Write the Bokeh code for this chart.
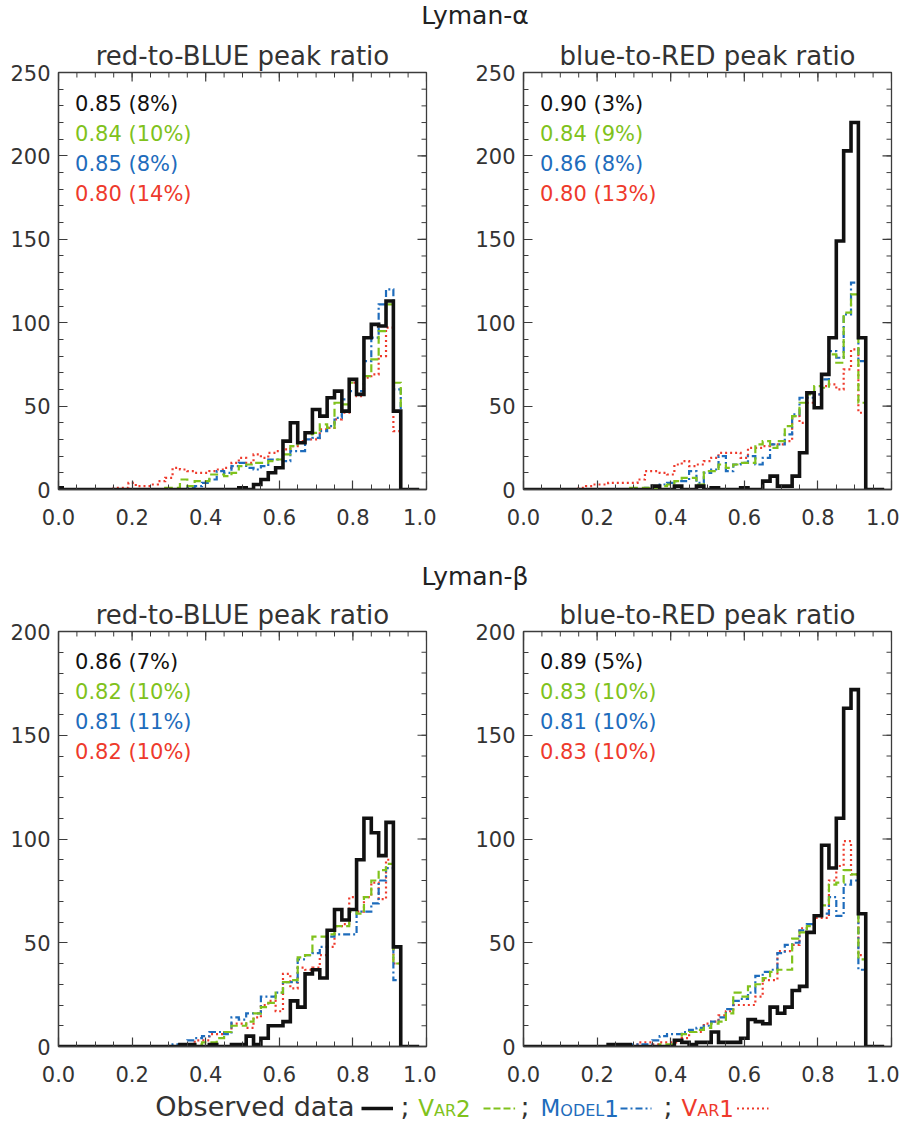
from bokeh.plotting import figure
from bokeh.models import Range1d, FixedTicker, PrintfTickFormatter, Label
from bokeh.layouts import column, row
from bokeh.core.properties import value
from bokeh.embed import file_html
from bokeh.resources import INLINE

# ---------------- data ----------------
bin_centers = [0.00, 0.02, 0.04, 0.06, 0.08, 0.10, 0.12, 0.14, 0.16, 0.18,
               0.20, 0.22, 0.24, 0.26, 0.28, 0.30, 0.32, 0.34, 0.36, 0.38,
               0.40, 0.42, 0.44, 0.46, 0.48, 0.50, 0.52, 0.54, 0.56, 0.58,
               0.60, 0.62, 0.64, 0.66, 0.68, 0.70, 0.72, 0.74, 0.76, 0.78,
               0.80, 0.82, 0.84, 0.86, 0.88, 0.90, 0.92, 0.94, 0.96, 0.98]

# Lyman-alpha, red-to-BLUE
lya_rb_obs = [1, 0, 0, 0, 0, 0, 0, 0, 0, 0, 0, 0, 0, 0, 0, 0, 0, 0, 0, 0, 0, 0, 0, 0, 0,
              1, 0, 3, 6, 10, 13, 29, 40, 28, 34, 48, 44, 55, 59, 47, 66, 57, 91, 99, 98, 113, 47, 0, 0, 0]
lya_rb_var2 = [0, 0, 0, 0, 0, 0, 0, 0, 0, 0, 0, 0, 0, 0, 0, 1, 1, 6, 2, 5, 5, 9, 9, 8, 10,
               14, 15, 16, 16, 17, 18, 21, 26, 28, 33, 34, 39, 37, 52, 51, 64, 57, 68, 78, 95, 111, 64, 0, 0, 0]
lya_rb_model1 = [0, 0, 0, 0, 0, 0, 0, 0, 0, 0, 0, 0, 0, 0, 0, 0, 0, 0, 1, 2, 4, 6, 11, 10, 14,
                 16, 13, 12, 14, 18, 18, 17, 23, 23, 30, 31, 35, 38, 43, 54, 59, 59, 77, 91, 111, 120, 60, 0, 0, 0]
lya_rb_var1 = [0, 0, 0, 0, 0, 0, 0, 0, 1, 1, 4, 2, 2, 3, 5, 7, 13, 12, 11, 10, 10, 11, 12, 13, 16,
               19, 16, 21, 19, 22, 23, 24, 26, 29, 30, 30, 36, 37, 42, 46, 64, 56, 67, 69, 80, 97, 35, 0, 0, 0]

# Lyman-alpha, blue-to-RED
lya_br_obs = [0, 0, 0, 0, 0, 0, 0, 0, 0, 0, 0, 0, 0, 0, 0, 0, 0, 0, 2, 0, 0, 2, 0, 0, 2,
              0, 1, 0, 0, 0, 1, 0, 0, 5, 8, 2, 2, 8, 22, 58, 49, 69, 91, 149, 203, 220, 91, 0, 0, 0]
lya_br_var2 = [0, 0, 0, 0, 0, 0, 0, 0, 0, 0, 0, 0, 0, 0, 0, 1, 1, 1, 1, 2, 3, 5, 7, 7, 3,
               11, 11, 15, 13, 15, 16, 16, 27, 29, 25, 29, 38, 44, 52, 57, 62, 61, 81, 76, 106, 117, 52, 0, 0, 0]
lya_br_model1 = [0, 0, 0, 0, 0, 0, 0, 0, 0, 0, 0, 0, 0, 0, 0, 0, 0, 1, 2, 3, 4, 5, 5, 11, 4,
                 10, 12, 20, 11, 15, 16, 20, 15, 19, 27, 27, 33, 45, 55, 55, 57, 66, 83, 79, 105, 124, 77, 0, 0, 0]
lya_br_var1 = [0, 0, 0, 0, 0, 0, 0, 0, 1, 2, 3, 3, 4, 4, 4, 4, 6, 11, 11, 10, 9, 15, 17, 14, 15,
               17, 19, 22, 22, 22, 19, 25, 25, 26, 27, 27, 29, 44, 40, 52, 57, 62, 63, 60, 72, 84, 46, 0, 0, 0]

# Lyman-beta, red-to-BLUE
lyb_rb_obs = [0, 0, 0, 0, 0, 0, 0, 0, 0, 0, 0, 0, 0, 0, 0, 0, 0, 1, 1, 0, 0, 1, 0, 0, 1,
              1, 5, 1, 4, 10, 10, 12, 22, 19, 35, 37, 33, 56, 66, 61, 66, 90, 110, 103, 92, 108, 48, 0, 0, 0]
lyb_rb_var2 = [0, 0, 0, 0, 0, 0, 0, 0, 0, 0, 0, 0, 0, 0, 0, 0, 0, 0, 1, 1, 2, 2, 4, 7, 10,
               10, 12, 16, 19, 21, 26, 31, 32, 43, 44, 53, 53, 54, 58, 58, 65, 64, 72, 80, 85, 88, 40, 0, 0, 0]
lyb_rb_model1 = [0, 0, 0, 0, 0, 0, 0, 0, 0, 0, 0, 0, 0, 0, 0, 0, 1, 1, 3, 4, 5, 7, 7, 6, 14,
                 13, 16, 16, 24, 24, 26, 31, 31, 42, 44, 45, 48, 53, 54, 54, 54, 65, 65, 69, 80, 86, 32, 0, 0, 0]
lyb_rb_var1 = [0, 0, 0, 0, 0, 0, 0, 0, 0, 0, 0, 0, 0, 0, 0, 0, 0, 0, 1, 3, 3, 6, 6, 7, 11,
               11, 9, 14, 20, 22, 17, 35, 28, 38, 37, 38, 44, 48, 58, 59, 72, 65, 72, 79, 71, 90, 40, 0, 0, 0]

# Lyman-beta, blue-to-RED
lyb_br_obs = [0, 0, 0, 0, 0, 0, 0, 0, 0, 0, 0, 0, 1, 1, 1, 0, 0, 0, 0, 0, 0, 3, 2, 1, 2,
              2, 7, 2, 2, 2, 4, 13, 12, 11, 19, 16, 19, 27, 29, 55, 63, 97, 86, 110, 163, 172, 64, 0, 0, 0]
lyb_br_var2 = [0, 0, 0, 0, 0, 0, 0, 0, 0, 0, 0, 0, 0, 0, 0, 0, 0, 0, 0, 1, 1, 3, 6, 7, 8,
               9, 11, 12, 16, 26, 24, 29, 30, 33, 36, 37, 37, 52, 55, 58, 63, 68, 78, 79, 85, 83, 42, 0, 0, 0]
lyb_br_model1 = [0, 0, 0, 0, 0, 0, 0, 0, 0, 0, 0, 0, 0, 0, 0, 1, 1, 1, 3, 5, 6, 6, 7, 8, 9,
                 10, 12, 14, 18, 22, 23, 26, 34, 36, 37, 45, 49, 50, 56, 59, 63, 64, 72, 63, 78, 80, 37, 0, 0, 0]
lyb_br_var1 = [0, 0, 0, 0, 0, 0, 0, 0, 0, 0, 0, 0, 0, 0, 0, 0, 2, 2, 1, 2, 2, 2, 4, 7, 7,
               11, 12, 15, 17, 20, 20, 20, 24, 32, 32, 46, 46, 49, 57, 59, 62, 62, 80, 87, 99, 83, 44, 0, 0, 0]

# panel annotations (median and spread per series)
lya_rb_stats = ["0.85 (8%)", "0.84 (10%)", "0.85 (8%)", "0.80 (14%)"]
lya_br_stats = ["0.90 (3%)", "0.84 (9%)", "0.86 (8%)", "0.80 (13%)"]
lyb_rb_stats = ["0.86 (7%)", "0.82 (10%)", "0.81 (11%)", "0.82 (10%)"]
lyb_br_stats = ["0.89 (5%)", "0.83 (10%)", "0.81 (10%)", "0.83 (10%)"]

x_major = [0.0, 0.2, 0.4, 0.6, 0.8, 1.0]
x_minor = [0.0, 0.05, 0.1, 0.15, 0.2, 0.25, 0.3, 0.35, 0.4, 0.45, 0.5,
           0.55, 0.6, 0.65, 0.7, 0.75, 0.8, 0.85, 0.9, 0.95, 1.0]

# ---------------- style ----------------
FONT = "DejaVu Sans"
TXT = "#333333"
AX = "#3c3c3c"
C_OBS = "#111111"
C_VAR2 = "#80c21c"
C_MOD1 = "#1e6cbc"
C_VAR1 = "#ee3a2c"
series_styles = [
    dict(color=C_VAR1, width=2.2, dash="2 3"),
    dict(color=C_MOD1, width=2.2, dash="7 3 2 3"),
    dict(color=C_VAR2, width=2.2, dash="8 4"),
    dict(color=C_OBS, width=3.6, dash="solid"),
]
stat_colors = [C_OBS, C_VAR2, C_MOD1, C_VAR1]
MAJ_LEN = 9
MIN_LEN = 5


def style_axis(ax, ticks, minor, fmt=None):
    ax.ticker = FixedTicker(ticks=ticks, minor_ticks=minor)
    ax.major_tick_in = MAJ_LEN
    ax.major_tick_out = 0
    ax.minor_tick_in = MIN_LEN
    ax.minor_tick_out = 0
    ax.axis_line_color = AX
    ax.axis_line_width = 1.3
    ax.major_tick_line_color = AX
    ax.minor_tick_line_color = AX
    ax.major_tick_line_width = 1.2
    ax.minor_tick_line_width = 1.0
    if fmt is not None:
        ax.formatter = fmt
    ax.major_label_text_font = FONT
    ax.major_label_text_font_size = "21px"
    ax.major_label_text_color = TXT


def make_panel(title, data, stats, ymax, yticks, ymin_step, width, height, bl, br, bt, bb, xstand):
    p = figure(width=width, height=height, x_range=Range1d(0, 1), y_range=Range1d(0, ymax),
               min_border_left=bl, min_border_right=br, min_border_top=bt, min_border_bottom=bb,
               output_backend="svg", toolbar_location=None, title=title)
    p.title.align = "center"
    p.title.text_font = FONT
    p.title.text_font_size = "26px"
    p.title.text_font_style = "normal"
    p.title.text_color = TXT
    p.title.standoff = 4
    p.xgrid.visible = False
    p.ygrid.visible = False
    p.outline_line_color = AX
    p.outline_line_width = 1.3
    p.background_fill_color = "white"
    p.border_fill_color = "white"
    y_minor = list(range(0, ymax + 1, ymin_step))
    style_axis(p.xaxis[0], x_major, x_minor, PrintfTickFormatter(format="%.1f"))
    p.xaxis[0].major_label_standoff = xstand
    style_axis(p.yaxis[0], yticks, y_minor)
    p.yaxis[0].major_label_standoff = 8

    # mirrored inward ticks on the top and right frame edges
    frame_w = width - bl - br
    frame_h = height - bt - bb
    dy_maj = MAJ_LEN * ymax / frame_h
    dy_min = MIN_LEN * ymax / frame_h
    dx_maj = MAJ_LEN / frame_w
    dx_min = MIN_LEN / frame_w
    p.segment(x0=x_minor, y0=[ymax] * len(x_minor), x1=x_minor, y1=[ymax - dy_min] * len(x_minor),
              line_color=AX, line_width=1.0)
    p.segment(x0=x_major, y0=[ymax] * len(x_major), x1=x_major, y1=[ymax - dy_maj] * len(x_major),
              line_color=AX, line_width=1.2)
    p.segment(x0=[1.0] * len(y_minor), y0=y_minor, x1=[1.0 - dx_min] * len(y_minor), y1=y_minor,
              line_color=AX, line_width=1.0)
    p.segment(x0=[1.0] * len(yticks), y0=yticks, x1=[1.0 - dx_maj] * len(yticks), y1=yticks,
              line_color=AX, line_width=1.2)

    for vals, st in zip(data, series_styles):
        p.step(x=bin_centers, y=vals, mode="center", line_color=st["color"],
               line_width=st["width"], line_dash=st["dash"], line_join="miter")
    for k, (txt, col) in enumerate(zip(stats, stat_colors)):
        off = 31 + 30 * k
        p.add_layout(Label(x=0.045, y=ymax - off * ymax / frame_h, text=txt,
                           text_font=FONT, text_font_size="21px", text_color=col,
                           text_baseline="middle", text_align="left"))
    return p


def text_figure(w, h):
    f = figure(width=w, height=h, x_range=Range1d(0, w), y_range=Range1d(h, 0),
               x_axis_type=None, y_axis_type=None, min_border=0,
               output_backend="svg", toolbar_location=None)
    f.outline_line_color = None
    f.background_fill_color = "white"
    f.border_fill_color = "white"
    return f


def header(h, head_text, head_y):
    f = text_figure(899, h)
    f.text(x=[474.5], y=[head_y], text=[head_text], text_font=value(FONT),
           text_font_size=value("25px"), text_align="center", text_baseline="middle",
           text_color="#222222")
    return f


SUB_RB = "red-to-BLUE peak ratio"
SUB_BR = "blue-to-RED peak ratio"

head1 = header(36, "Lyman-\u03b1", 15)
tl = make_panel(SUB_RB, [lya_rb_var1, lya_rb_model1, lya_rb_var2, lya_rb_obs], lya_rb_stats,
                250, [0, 50, 100, 150, 200, 250], 10, 436, 504, 58, 10, 36, 51, 19)
tr = make_panel(SUB_BR, [lya_br_var1, lya_br_model1, lya_br_var2, lya_br_obs], lya_br_stats,
                250, [0, 50, 100, 150, 200, 250], 10, 463, 504, 87, 8, 36, 51, 19)
head2 = header(55, "Lyman-\u03b2", 36)
bl = make_panel(SUB_RB, [lyb_rb_var1, lyb_rb_model1, lyb_rb_var2, lyb_rb_obs], lyb_rb_stats,
                200, [0, 50, 100, 150, 200], 10, 436, 495, 58, 10, 35, 44, 19)
br = make_panel(SUB_BR, [lyb_br_var1, lyb_br_model1, lyb_br_var2, lyb_br_obs], lyb_br_stats,
                200, [0, 50, 100, 150, 200], 10, 463, 495, 87, 8, 35, 44, 19)

# legend strip
leg = text_figure(899, 34)
MID = 16
LY = 18


def ltext(x, s, size, col, dy=0.0):
    leg.text(x=[x], y=[MID + dy], text=[s], text_font=value(FONT), text_font_size=value(size),
             text_align="left", text_baseline="middle", text_color=col)


ltext(154.7, "Observed data", "27px", TXT)
leg.line(x=[361, 392.5], y=[LY, LY], line_color=C_OBS, line_width=3.6)
ltext(400, ";", "27px", TXT)
ltext(417.8, "V", "23px", C_VAR2, 1.5)
ltext(433.5, "AR", "16px", C_VAR2, 4.0)
ltext(455.5, "2", "23px", C_VAR2, 1.5)
leg.line(x=[483, 514.6], y=[LY, LY], line_color=C_VAR2, line_width=2.2, line_dash="7 3")
ltext(520, ";", "27px", TXT)
ltext(540, "M", "23px", C_MOD1, 1.5)
ltext(559.8, "ODEL", "16px", C_MOD1, 4.0)
ltext(603.7, "1", "23px", C_MOD1, 1.5)
leg.line(x=[620, 651], y=[LY, LY], line_color=C_MOD1, line_width=2.2, line_dash="7 3 2 3")
ltext(663, ";", "27px", TXT)
ltext(681, "V", "23px", C_VAR1, 1.5)
ltext(696.7, "AR", "16px", C_VAR1, 4.0)
ltext(718.7, "1", "23px", C_VAR1, 1.5)
leg.line(x=[736.5, 768], y=[LY, LY], line_color=C_VAR1, line_width=2.2, line_dash="2 3")

layout = column(head1, row(tl, tr, spacing=0), head2, row(bl, br, spacing=0), leg, spacing=0)

open("out.html", "w").write(file_html(layout, INLINE))
